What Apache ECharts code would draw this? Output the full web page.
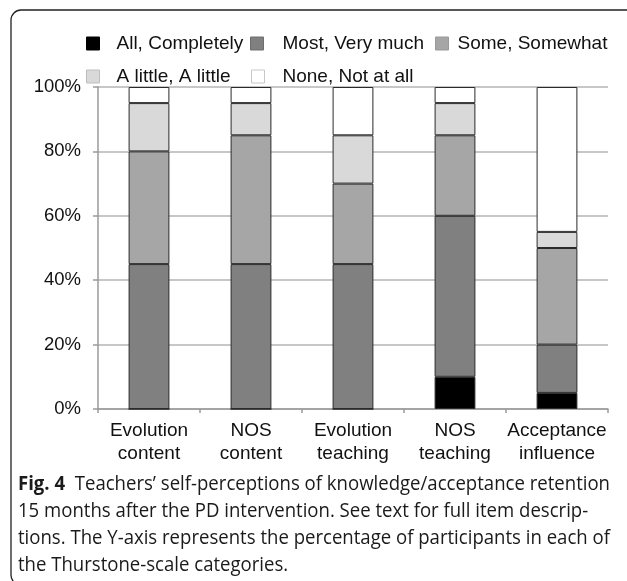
<!DOCTYPE html>
<html><head><meta charset="utf-8">
<script src="https://cdn.jsdelivr.net/npm/echarts@6/dist/echarts.min.js"></script>
<style>html,body{margin:0;padding:0;background:#fff}#c{width:627px;height:581px}</style>
</head><body><div id="c"></div>
<script>
const categories = ['Evolution\ncontent', 'NOS\ncontent', 'Evolution\nteaching', 'NOS\nteaching', 'Acceptance\ninfluence'];
const seriesNames = ['All, Completely', 'Most, Very much', 'Some, Somewhat', 'A little, A little', 'None, Not at all'];
const allCompletely = [0, 0, 0, 10, 5];
const mostVeryMuch = [45, 45, 45, 50, 15];
const someSomewhat = [35, 40, 25, 25, 30];
const aLittle = [15, 10, 15, 10, 5];
const noneNotAtAll = [5, 5, 15, 5, 45];
const yTicks = [0, 20, 40, 60, 80, 100];
const captionLines = [
  "Teachers\u2019 self-perceptions of knowledge/acceptance retention",
  "15 months after the PD intervention. See text for full item descrip-",
  "tions. The Y-axis represents the percentage of participants in each of",
  "the Thurstone-scale categories."
];
const captionLabel = 'Fig. 4';

const values = [allCompletely, mostVeryMuch, someSomewhat, aLittle, noneNotAtAll];
const colors = ['#000000', '#808080', '#a6a6a6', '#d9d9d9', '#ffffff'];
const legendBorders = ['#000000', '#6e6e6e', '#999999', '#bdbdbd', '#c8c8c8'];
const legendPos = [
  {left: 86, top: 34, pad: 12},
  {left: 250, top: 34, pad: 14},
  {left: 435, top: 34, pad: 4},
  {left: 86, top: 67, pad: 12},
  {left: 251, top: 67, pad: 13}
];

const chart = echarts.init(document.getElementById('c'), null, {renderer: 'canvas'});
const font = '"Liberation Sans", Arial, sans-serif';
const capFamily = '"Open Sans", sans-serif';
const capSize = 20;

// measure caption first line to fit target width
const mctx = document.createElement('canvas').getContext('2d');
mctx.font = 'bold ' + capSize + 'px ' + capFamily;
const wLabel = mctx.measureText(captionLabel + '  ').width;
mctx.font = capSize + 'px ' + capFamily;
const wLine0 = wLabel + mctx.measureText(captionLines[0]).width;
const capScale = 592 / wLine0;

const legends = seriesNames.map((n, i) => ({
  data: [n],
  left: legendPos[i].left,
  top: legendPos[i].top,
  orient: 'horizontal',
  padding: 0,
  itemWidth: 13,
  itemHeight: 13,
  icon: 'rect',
  selectedMode: false,
  itemStyle: {borderColor: legendBorders[i], borderWidth: 1},
  textStyle: {fontFamily: font, fontSize: 19, color: '#111', padding: [0, 0, 0, legendPos[i].pad]}
}));

const series = seriesNames.map((n, i) => ({
  name: n,
  type: 'bar',
  stack: 'total',
  barWidth: '40%',
  data: values[i],
  itemStyle: {color: colors[i], borderColor: '#2a2a2a', borderWidth: 1},
  emphasis: {disabled: true}
}));

const lineY = [484, 511, 538, 565];
const capGraphics = captionLines.map((t, k) => ({
  type: 'text',
  x: 18, y: lineY[k],
  scaleX: capScale, scaleY: 1, originX: 0, originY: 0,
  style: {
    text: k === 0 ? '{b|' + captionLabel + '}  ' + t : t,
    fontFamily: capFamily, fontSize: capSize,
    fill: '#1a1a1a',
    verticalAlign: 'middle',
    rich: {b: {fontWeight: 'bold', fontFamily: capFamily, fontSize: capSize, fill: '#1a1a1a'}}
  }
}));

chart.setOption({
  animation: false,
  backgroundColor: '#ffffff',
  legend: legends,
  grid: {left: 98, right: 19, top: 87, bottom: 172, containLabel: false},
  xAxis: {
    type: 'category',
    data: categories,
    axisLine: {lineStyle: {color: '#9a9a9a', width: 1.5}},
    axisTick: {show: true, length: 4, lineStyle: {color: '#9a9a9a', width: 1.5}},
    axisLabel: {fontFamily: font, fontSize: 19, color: '#111', lineHeight: 23, margin: 10, interval: 0}
  },
  yAxis: {
    type: 'value',
    min: yTicks[0],
    max: yTicks[yTicks.length - 1],
    interval: 20,
    axisLine: {show: true, lineStyle: {color: '#9a9a9a', width: 1.5}},
    axisTick: {show: true, length: 5, lineStyle: {color: '#9a9a9a', width: 1.5}},
    splitLine: {lineStyle: {color: '#b4b4b4', width: 1.5}},
    axisLabel: {fontFamily: font, fontSize: 18.5, color: '#111', margin: 17, formatter: '{value}%'}
  },
  series: series,
  graphic: [
    {type: 'rect', shape: {x: 11, y: 10, width: 700, height: 575, r: 10}, style: {fill: null, stroke: '#222', lineWidth: 1.3}, z: 100}
  ].concat(capGraphics)
});
</script>
</body></html>
